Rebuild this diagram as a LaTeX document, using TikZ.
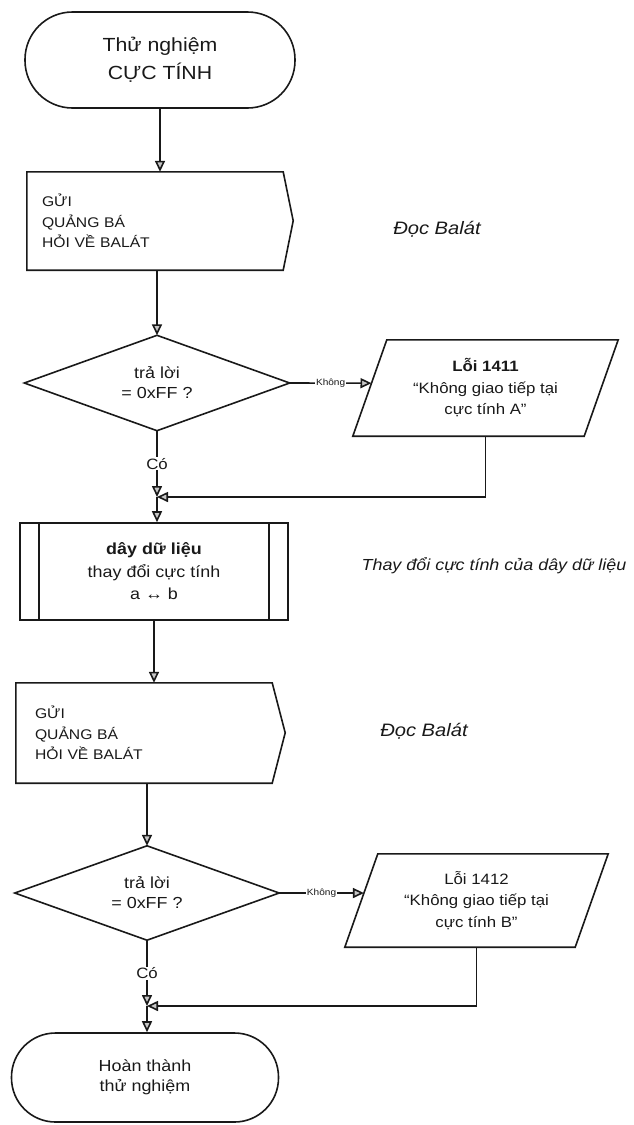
\documentclass[tikz,border=0pt]{standalone}
\usepackage{fontspec}
\setmainfont{Liberation Sans}[FakeStretch=1.12]
\usetikzlibrary{arrows.meta,calc}
\definecolor{ink}{gray}{0.1}
\begin{document}
\begin{tikzpicture}[x=1pt,y=-1pt,
  every node/.style={text=ink},
  ln/.style={draw=ink,line width=1.6pt},
  arr/.style={ln,-{Triangle[length=11pt,width=10pt,fill=gray!45]}},
  term/.style={ln,rectangle,rounded corners=#1,align=center,inner sep=0pt},
  plain/.style={rectangle,inner sep=0pt},
  lbl/.style={fill=white,inner sep=1pt},
  big/.style={font=\fontsize{19pt}{28pt}\selectfont},
  sendtxt/.style={font=\fontsize{14pt}{20.5pt}\selectfont},
  dtxt/.style={font=\fontsize{16pt}{20pt}\selectfont},
  ptxt/.style={font=\fontsize{15pt}{21.5pt}\selectfont},
  note/.style={font=\fontsize{16pt}{20pt}\selectfont\itshape},
]
\useasboundingbox (0,0) rectangle (633,1125);

% start
\node[term=47.5pt, minimum width=270pt, minimum height=96pt, big] (start) at (160,60) {Thử nghiệm\\CỰC TÍNH};

% send 1
\node[plain, minimum width=256pt, minimum height=98pt, text width=226pt, align=left, sendtxt] (b1) at (155,221) {GỬI\\QUẢNG BÁ\\HỎI VỀ BALÁT};
\draw[ln] (b1.north west) -- (b1.north east) -- ++(10,49) -- (b1.south east) -- (b1.south west) -- cycle;
\node[note, font=\fontsize{18pt}{20pt}\selectfont\itshape] (a1) at (437,229) {Đọc Balát};

% decision 1
\node[plain, minimum width=265pt, minimum height=95pt, align=center, dtxt] (d1) at (157,383) {trả lời\\= 0xFF ?};
\draw[ln] (d1.north) -- (d1.east) -- (d1.south) -- (d1.west) -- cycle;

% error 1
\node[plain, minimum width=265pt, minimum height=96pt, align=center, ptxt] (p1) at (485.5,388) {\textbf{Lỗi 1411}\\“Không giao tiếp tại\\cực tính A”};
\draw[ln] ([xshift=34pt]p1.north west) -- (p1.north east) -- ([xshift=-34pt]p1.south east) -- (p1.south west) -- cycle;
\coordinate (p1in) at ($(p1.south west)!0.55!([xshift=34pt]p1.north west)$);
\coordinate (j1) at (157,497);

% predefined process
\node[ln, rectangle, inner sep=0pt, minimum width=268pt, minimum height=97pt, align=center, font=\fontsize{16pt}{22.5pt}\selectfont] (pp) at (154,571.5) {\textbf{dây dữ liệu}\\thay đổi cực tính\\a ↔ b};
\draw[ln] ([xshift=20pt]pp.north west) -- ([xshift=20pt]pp.south west);
\draw[ln] ([xshift=-20pt]pp.north east) -- ([xshift=-20pt]pp.south east);
\node[note] (a3) at (494,566) {Thay đổi cực tính của dây dữ liệu};

% send 2
\node[plain, minimum width=256pt, minimum height=100pt, text width=218pt, align=left, sendtxt] (b2) at (144,733) {GỬI\\QUẢNG BÁ\\HỎI VỀ BALÁT};
\draw[ln] (b2.north west) -- (b2.north east) -- ++(13,50) -- (b2.south east) -- (b2.south west) -- cycle;
\node[note, font=\fontsize{18pt}{20pt}\selectfont\itshape] (a2) at (424,731) {Đọc Balát};

% decision 2
\node[plain, minimum width=264pt, minimum height=94pt, align=center, dtxt] (d2) at (147,893) {trả lời\\= 0xFF ?};
\draw[ln] (d2.north) -- (d2.east) -- (d2.south) -- (d2.west) -- cycle;

% error 2
\node[plain, minimum width=263pt, minimum height=93pt, align=center, ptxt] (p2) at (476.5,900.5) {Lỗi 1412\\“Không giao tiếp tại\\cực tính B”};
\draw[ln] ([xshift=33pt]p2.north west) -- (p2.north east) -- ([xshift=-33pt]p2.south east) -- (p2.south west) -- cycle;
\coordinate (p2in) at ($(p2.south west)!0.58!([xshift=33pt]p2.north west)$);
\coordinate (j2) at (147,1006);

% end
\node[term=44pt, minimum width=267pt, minimum height=89pt, font=\fontsize{16pt}{20pt}\selectfont] (end) at (145,1077.5) {Hoàn thành\\thử nghiệm};

% connectors
\draw[arr] (start.south) -- (start.south |- b1.north);
\draw[arr] (d1.north |- b1.south) -- (d1.north);
\draw[arr] (d1.east) -- node[lbl, font=\fontsize{9pt}{10pt}\selectfont] {Không} (p1in);
\draw[arr] (d1.south) -- node[lbl, font=\fontsize{15pt}{16pt}\selectfont] {Có} (j1);
\draw[arr] (p1.south) |- (j1);
\draw[arr] (j1) -- (j1 |- pp.north);
\draw[arr] (pp.south) -- (pp.south |- b2.north);
\draw[arr] (d2.north |- b2.south) -- (d2.north);
\draw[arr] (d2.east) -- node[lbl, font=\fontsize{9pt}{10pt}\selectfont] {Không} (p2in);
\draw[arr] (d2.south) -- node[lbl, font=\fontsize{15pt}{16pt}\selectfont] {Có} (j2);
\draw[arr] (p2.south) |- (j2);
\draw[arr] (j2) -- (j2 |- end.north);
\end{tikzpicture}
\end{document}
